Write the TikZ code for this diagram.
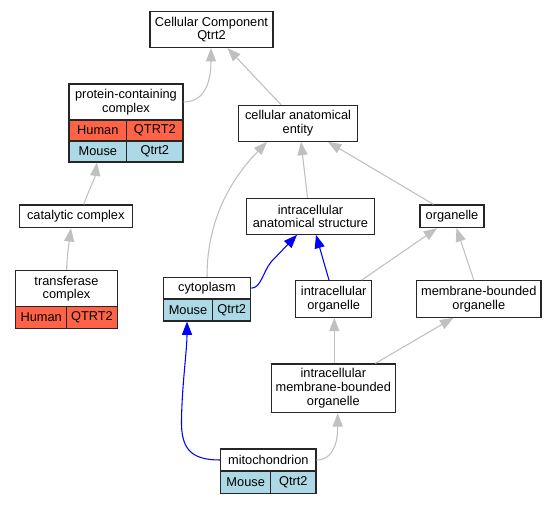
\documentclass[tikz,border=0pt]{standalone}
\usepackage{fontspec}
\setmainfont{Liberation Sans}
\usetikzlibrary{arrows.meta,calc}
\definecolor{edgegray}{HTML}{C0C0C0}
\definecolor{edgeblue}{HTML}{0000FF}
\definecolor{humanred}{HTML}{FF6347}
\definecolor{mouseblue}{HTML}{ADD8E6}
\begin{document}
\begin{tikzpicture}[x=0.75pt,y=-0.75pt,
  wh/.style 2 args={minimum width=#1*0.75pt, minimum height=#2*0.75pt},
  box/.style={draw=black!85, line width=0.85pt, fill=white, inner sep=0pt, align=center,
    font=\fontsize{9.6}{10.3}\selectfont},
  hum/.style={box, fill=humanred},
  mou/.style={box, fill=mouseblue},
  gedge/.style={draw=edgegray, line width=0.8pt, -{Triangle[length=10pt,width=7.6pt]}},
  bedge/.style={draw=edgeblue, line width=0.8pt, -{Triangle[length=10pt,width=7.6pt]}}]
\useasboundingbox[fill=white] (0,0) rectangle (556,504);

% nodes
\node[box, wh={123}{36}] (cc) at (211.5,29.5) {Cellular Component\\Qtrt2};
\node[box, wh={114}{36}] (pcc) at (126,102) {protein-containing\\complex};
\node[hum, wh={57.7}{21}] (pcch) at (97.85,130.5) {Human};
\node[hum, wh={56.3}{21}] (pccg) at (154.85,130.5) {QTRT2};
\node[mou, wh={57.7}{21}] (pccm) at (97.85,151.5) {Mouse};
\node[mou, wh={56.3}{21}] (pccq) at (154.85,151.5) {Qtrt2};
\node[box, wh={113}{22.7}] (cat) at (75.8,216.3) {catalytic complex};
\node[box, wh={101.6}{36}] (tc) at (66.5,288.7) {transferase\\complex};
\node[hum, wh={51}{21.6}] (tch) at (41.2,317.5) {Human};
\node[hum, wh={50.6}{21.6}] (tcg) at (92,317.5) {QTRT2};
\node[box, wh={118.6}{36}] (cae) at (298,123.3) {cellular anatomical\\entity};
\node[box, wh={127.6}{36}] (ias) at (310.5,216.3) {intracellular\\anatomical structure};
\node[box, wh={64}{22.7}] (org) at (452,216.3) {organelle};
\node[box, wh={87.4}{21.7}] (cyto) at (207,288.2) {cytoplasm};
\node[mou, wh={49.4}{22}] (cytom) at (188,310) {Mouse};
\node[mou, wh={38}{22}] (cytoq) at (231.7,310) {Qtrt2};
\node[box, wh={76}{36.6}] (io) at (333.7,299) {intracellular\\organelle};
\node[box, wh={124.3}{36.6}] (mbo) at (478.8,299) {membrane-bounded\\organelle};
\node[box, wh={124}{48.7}] (imbo) at (333.3,388.3) {intracellular\\membrane-bounded\\organelle};
\node[box, wh={95.3}{22}] (mito) at (268.3,460) {mitochondrion};
\node[mou, wh={50}{22.3}] (mitom) at (245.7,482.2) {Mouse};
\node[mou, wh={45.3}{22.3}] (mitoq) at (293.3,482.2) {Qtrt2};

% edges
\draw[gedge] (pcc.east) .. controls (203,102) and (211,85) .. ($(cc.south)+(-0.5,0)$);
\draw[gedge] ($(cae.north)+(-17,0)$) -- ($(cc.south)+(16,0)$);
\draw[gedge] ($(cat.north)+(8,0)$) .. controls (88,192) and (95,178) .. ($(pccm.south)+(-1,0)$);
\draw[gedge] ($(tc.north)+(0.2,0)$) .. controls (66.7,258) and (69,243) .. ($(cat.south)+(-4.8,0)$);
\draw[gedge] (cyto.north) .. controls (207,215) and (235,175) .. ($(cae.south)+(-31,0)$);
\draw[gedge] ($(ias.north)+(-3,0)$) -- ($(cae.south)+(3,0)$);
\draw[gedge] ($(org.north)+(-18.5,0)$) -- ($(cae.south)+(30,0)$);
\draw[bedge] (cyto.east) .. controls (261,288) and (263,272) .. (271,262) -- ($(ias.south)+(-13.5,0)$);
\draw[bedge] ($(io.north)+(-4.7,0)$) -- ($(ias.south)+(5.5,0)$);
\draw[gedge] ($(io.north)+(28,0)$) -- ($(org.south)+(-15,0)$);
\draw[gedge] ($(mbo.north)+(-5,0)$) -- ($(org.south)+(4.5,0)$);
\draw[gedge] ($(imbo.north)+(1,0)$) -- ($(io.south)+(0.6,0)$);
\draw[gedge] ($(imbo.north)+(42,0)$) -- ($(mbo.south)+(-25.5,0)$);
\draw[bedge] (mito.west) .. controls (190,460) and (181,448) .. (181.5,420)
  .. controls (182,385) and (187,350) .. ($(cytom.south)+(-1,0)$);
\draw[gedge] (mito.east) .. controls (332,460) and (337.7,445) .. ($(imbo.south)+(4.4,0)$);
\end{tikzpicture}
\end{document}
